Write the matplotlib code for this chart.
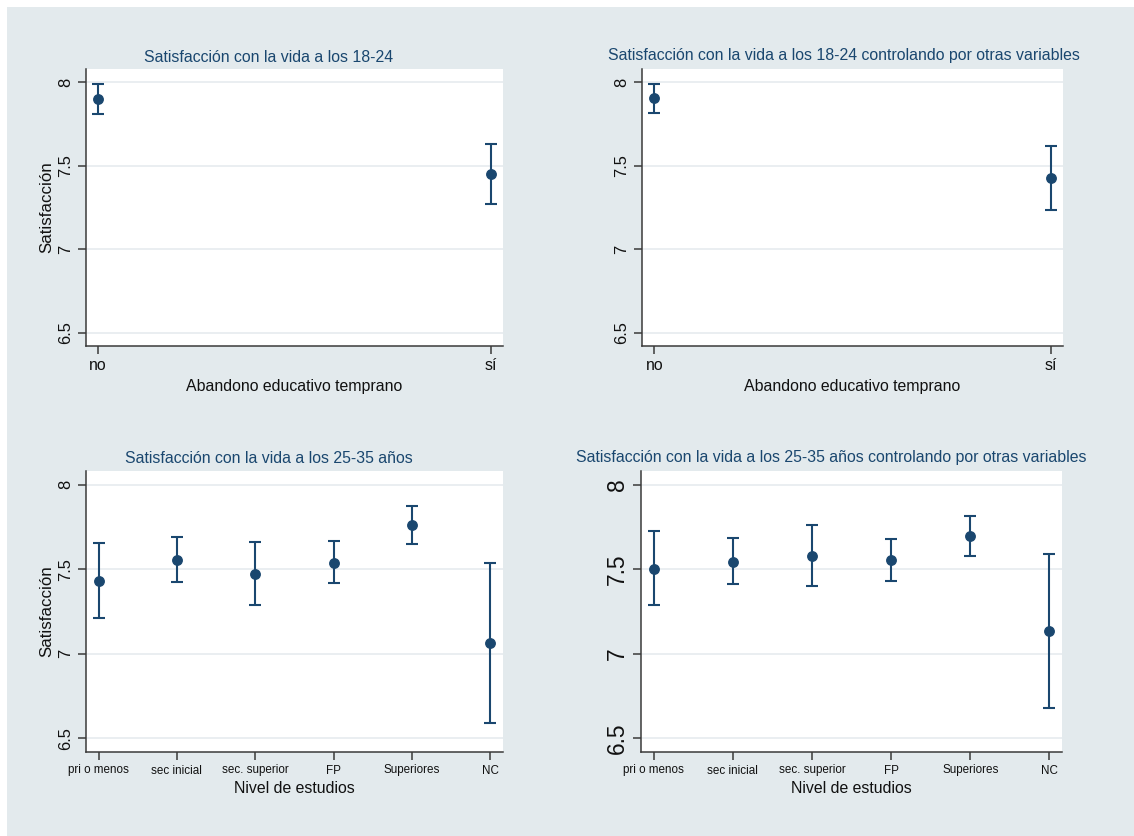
import matplotlib
matplotlib.use("Agg")
import matplotlib.pyplot as plt
from matplotlib.patches import Rectangle

plt.rcParams['font.family'] = ['Liberation Sans', 'DejaVu Sans']

# --- data -------------------------------------------------------------
abandono_cats = ["no", "sí"]
sat_1824 = [7.900, 7.450]
sat_1824_lo = [7.812, 7.268]
sat_1824_hi = [7.988, 7.632]

sat_1824_ctrl = [7.904, 7.425]
sat_1824_ctrl_lo = [7.818, 7.234]
sat_1824_ctrl_hi = [7.992, 7.620]

estudios_cats = ["pri o menos", "sec inicial", "sec. superior", "FP", "Superiores", "NC"]
sat_2535 = [7.433, 7.555, 7.473, 7.539, 7.759, 7.063]
sat_2535_lo = [7.214, 7.422, 7.286, 7.418, 7.649, 6.592]
sat_2535_hi = [7.655, 7.690, 7.661, 7.665, 7.875, 7.535]

sat_2535_ctrl = [7.504, 7.545, 7.578, 7.553, 7.696, 7.135]
sat_2535_ctrl_lo = [7.286, 7.414, 7.398, 7.433, 7.578, 6.680]
sat_2535_ctrl_hi = [7.725, 7.682, 7.763, 7.676, 7.816, 7.592]

y_ticks = [6.5, 7, 7.5, 8]
y_ticklabels = ["6.5", "7", "7.5", "8"]

titles = [
    "Satisfacción con la vida a los 18-24",
    "Satisfacción con la vida a los 18-24 controlando por otras variables",
    "Satisfacción con la vida a los 25-35 años",
    "Satisfacción con la vida a los 25-35 años controlando por otras variables",
]

# --- style ------------------------------------------------------------
W, H = 1134, 836
BG = "#e3eaed"
NAVY = "#1a476f"
AXC = "#3a3a3a"
GRID = "#e8edf0"

fig = plt.figure(figsize=(W / 100, H / 100), dpi=100)
fig.patch.set_facecolor("white")
fig.patches.append(Rectangle((7 / W, 0), 1 - 7 / W, 1 - 7 / H,
                             transform=fig.transFigure, facecolor=BG,
                             edgecolor="none", zorder=-10))


def px_axes(left, top, right, bottom):
    return fig.add_axes([left / W, 1 - bottom / H, (right - left) / W, (bottom - top) / H])


def draw_panel(ax, cats, vals, lo, hi, xlim, ytick_size, xtick_size, xlabel,
               xlabel_y, ylabel=None):
    x = list(range(len(cats)))
    yerr = [[v - l for v, l in zip(vals, lo)], [h - v for v, h in zip(vals, hi)]]
    ax.set_facecolor("white")
    ax.errorbar(x, vals, yerr=yerr, fmt="o", color=NAVY, ecolor=NAVY,
                markersize=6.8, elinewidth=1.5, capsize=4, capthick=1.5, zorder=3)
    ax.set_xlim(*xlim)
    ax.set_ylim(6.42, 8.08)
    ax.set_yticks(y_ticks)
    ax.set_yticklabels(y_ticklabels, fontsize=ytick_size, rotation=90,
                       va="center")
    ax.set_xticks(x)
    ax.set_xticklabels(cats, fontsize=xtick_size)
    for s in ("top", "right"):
        ax.spines[s].set_visible(False)
    for s in ("left", "bottom"):
        ax.spines[s].set_color(AXC)
        ax.spines[s].set_linewidth(1.1)
    ax.tick_params(axis="both", color=AXC, width=1.1, length=5.5, pad=3.5,
                   labelcolor="#111111")
    ax.yaxis.grid(True, color=GRID, linewidth=1.3)
    ax.set_axisbelow(True)
    ax.set_xlabel(xlabel, fontsize=11.4, va="center", color="#111111")
    ax.xaxis.set_label_coords(0.5, xlabel_y)
    if ylabel:
        ax.set_ylabel(ylabel, fontsize=12.2, va="center", color="#111111")
        ax.yaxis.set_label_coords(-0.094, 0.5)


ax1 = px_axes(86, 69, 503, 346)
draw_panel(ax1, abandono_cats, sat_1824, sat_1824_lo, sat_1824_hi,
           (-0.031, 1.031), 11.9, 11.4, "Abandono educativo temprano", -0.147,
           "Satisfacción")

ax2 = px_axes(642, 69, 1063, 346)
draw_panel(ax2, abandono_cats, sat_1824_ctrl, sat_1824_ctrl_lo, sat_1824_ctrl_hi,
           (-0.031, 1.031), 11.9, 11.4, "Abandono educativo temprano", -0.147)

ax3 = px_axes(86, 471, 503, 752)
draw_panel(ax3, estudios_cats, sat_2535, sat_2535_lo, sat_2535_hi,
           (-0.16, 5.16), 11.9, 8.4, "Nivel de estudios", -0.131,
           "Satisfacción")

ax4 = px_axes(641, 471, 1062, 752)
draw_panel(ax4, estudios_cats, sat_2535_ctrl, sat_2535_ctrl_lo, sat_2535_ctrl_hi,
           (-0.16, 5.16), 16.4, 8.4, "Nivel de estudios", -0.131)

# panel titles
title_pos = [(269, 61.5), (844, 60), (269, 463.3), (831, 461.7)]
for t, (tx, ty) in zip(titles, title_pos):
    fig.text(tx / W, 1 - ty / H, t, fontsize=11.4, color=NAVY,
             ha="center", va="baseline")

fig.savefig("out.png", dpi=100, facecolor=fig.get_facecolor())
